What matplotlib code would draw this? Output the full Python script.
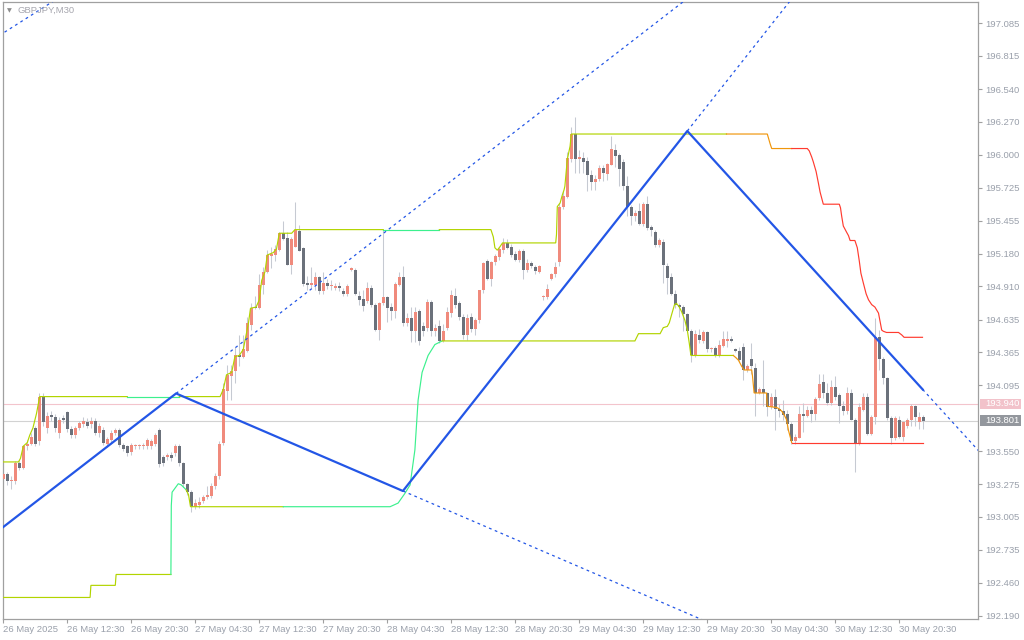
import matplotlib
matplotlib.use("Agg")
import matplotlib.pyplot as plt
from matplotlib.patches import Rectangle
import numpy as np

# ---------------- data ----------------
symbol_title = "GBPJPY,M30"
time_label_bars = [0, 16, 32, 48, 64, 80, 96, 112, 128, 144, 160, 176, 192, 208, 224]
time_labels = ["26 May 2025", "26 May 12:30", "26 May 20:30", "27 May 04:30", "27 May 12:30",
               "27 May 20:30", "28 May 04:30", "28 May 12:30", "28 May 20:30", "29 May 04:30",
               "29 May 12:30", "29 May 20:30", "30 May 04:30", "30 May 12:30", "30 May 20:30"]
price_ticks = [197.085, 196.815, 196.540, 196.270, 196.000, 195.725, 195.455, 195.180, 194.910,
               194.635, 194.365, 194.095, 193.550, 193.275, 193.005, 192.735, 192.460, 192.190]
ask_price = 193.940
bid_price = 193.801

opens = [
    193.32, 193.36, 193.30, 193.30, 193.45, 193.41, 193.59, 193.61, 193.74, 193.63,
    194.00, 193.74, 193.85, 193.83, 193.70, 193.82, 193.87, 193.73, 193.68, 193.74,
    193.77, 193.79, 193.77, 193.80, 193.70, 193.72, 193.61, 193.64, 193.70, 193.72,
    193.60, 193.59, 193.54, 193.59, 193.59, 193.59, 193.59, 193.59, 193.61, 193.72,
    193.50, 193.50, 193.52, 193.53, 193.59, 193.45, 193.28, 193.21, 193.09, 193.10,
    193.14, 193.17, 193.18, 193.26, 193.34, 193.62, 194.05, 194.17, 194.21, 194.34,
    194.33, 194.38, 194.59, 194.74, 194.73, 194.92, 195.03, 195.16, 195.17, 195.21,
    195.35, 195.31, 195.09, 195.24, 195.37, 195.23, 194.94, 194.92, 194.92, 194.99,
    194.87, 194.94, 194.91, 194.90, 194.91, 194.87, 194.85, 195.05, 195.05, 194.83,
    194.81, 194.79, 194.90, 194.76, 194.55, 194.77, 194.82, 194.74, 194.71, 194.92,
    194.99, 194.61, 194.65, 194.54, 194.71, 194.58, 194.57, 194.78, 194.54, 194.58,
    194.46, 194.57, 194.69, 194.83, 194.77, 194.66, 194.51, 194.66, 194.56, 194.63,
    194.88, 195.12, 194.97, 195.11, 195.15, 195.21, 195.27, 195.24, 195.18, 195.13,
    195.20, 195.05, 195.10, 195.07, 195.03, 194.82, 194.82, 194.97, 195.01, 195.11,
    195.57, 195.65, 195.96, 196.17, 195.96, 195.97, 195.95, 195.83, 195.77, 195.80,
    195.89, 195.84, 195.91, 196.04, 196.00, 195.94, 195.74, 195.57, 195.49, 195.53,
    195.43, 195.59, 195.40, 195.36, 195.25, 195.28, 195.08, 194.99, 194.85, 194.76,
    194.74, 194.68, 194.54, 194.34, 194.51, 194.46, 194.53, 194.39, 194.40, 194.34,
    194.42, 194.46, 194.48, 194.39, 194.38, 194.41, 194.22, 194.31, 194.24, 194.03,
    194.06, 194.03, 193.91, 194.00, 193.90, 193.88, 193.86, 193.77, 193.63, 193.66,
    193.86, 193.84, 193.89, 193.86, 193.99, 194.12, 194.03, 193.95, 194.08, 194.01,
    193.92, 193.88, 194.03, 193.81, 193.62, 193.89, 194.00, 193.69, 193.83, 194.49,
    194.31, 194.15, 193.82, 193.66, 193.81, 193.67, 193.76, 193.81, 193.92, 193.79,
    193.83]
highs = [
    193.40, 193.38, 193.34, 193.47, 193.47, 193.60, 193.64, 193.70, 193.76, 194.03,
    194.03, 193.87, 193.88, 193.86, 193.83, 193.85, 193.88, 193.76, 193.76, 193.80,
    193.83, 193.82, 193.83, 193.82, 193.78, 193.75, 193.67, 193.72, 193.74, 193.74,
    193.62, 193.60, 193.62, 193.61, 193.61, 193.62, 193.66, 193.65, 193.70, 193.74,
    193.52, 193.53, 193.54, 193.61, 193.61, 193.46, 193.29, 193.23, 193.15, 193.17,
    193.19, 193.26, 193.29, 193.37, 193.63, 194.11, 194.26, 194.26, 194.41, 194.51,
    194.51, 194.66, 194.77, 194.83, 195.01, 195.07, 195.21, 195.24, 195.25, 195.36,
    195.45, 195.36, 195.32, 195.61, 195.42, 195.24, 195.00, 195.07, 195.03, 195.00,
    195.03, 194.97, 194.96, 194.94, 194.95, 194.90, 194.93, 195.07, 195.06, 194.87,
    194.88, 194.95, 194.92, 194.77, 194.78, 195.38, 194.83, 194.77, 194.95, 195.03,
    195.08, 194.69, 194.74, 194.74, 194.72, 194.62, 194.81, 194.80, 194.60, 194.63,
    194.60, 194.74, 194.88, 194.90, 194.79, 194.68, 194.68, 194.69, 194.65, 194.88,
    195.11, 195.14, 195.12, 195.18, 195.24, 195.31, 195.30, 195.26, 195.20, 195.22,
    195.22, 195.14, 195.12, 195.09, 195.09, 194.84, 194.93, 195.02, 195.11, 195.60,
    195.70, 196.02, 196.23, 196.31, 196.04, 196.02, 195.98, 195.87, 195.83, 195.91,
    195.91, 195.93, 196.15, 196.09, 196.01, 195.96, 195.82, 195.58, 195.54, 195.60,
    195.61, 195.66, 195.42, 195.38, 195.31, 195.30, 195.10, 195.02, 194.88, 194.77,
    194.76, 194.69, 194.56, 194.55, 194.56, 194.55, 194.54, 194.41, 194.42, 194.47,
    194.54, 194.54, 194.50, 194.40, 194.41, 194.44, 194.27, 194.44, 194.28, 194.08,
    194.30, 194.04, 194.03, 194.06, 193.94, 193.97, 193.89, 193.79, 193.69, 193.92,
    193.95, 193.92, 193.92, 194.00, 194.19, 194.19, 194.11, 194.14, 194.17, 194.03,
    193.96, 194.08, 194.06, 193.82, 193.95, 194.03, 194.03, 193.85, 194.65, 194.55,
    194.33, 194.16, 193.84, 193.84, 193.84, 193.80, 193.82, 193.94, 193.93, 193.87,
    193.85]
lows = [
    193.28, 193.27, 193.24, 193.28, 193.39, 193.40, 193.56, 193.60, 193.59, 193.60,
    193.76, 193.70, 193.80, 193.71, 193.66, 193.78, 193.71, 193.66, 193.66, 193.72,
    193.75, 193.74, 193.74, 193.68, 193.67, 193.60, 193.58, 193.62, 193.68, 193.58,
    193.55, 193.51, 193.52, 193.57, 193.57, 193.57, 193.57, 193.57, 193.59, 193.42,
    193.43, 193.48, 193.47, 193.51, 193.43, 193.25, 193.19, 193.05, 193.07, 193.08,
    193.12, 193.15, 193.16, 193.24, 193.32, 193.60, 193.97, 193.97, 194.11, 194.25,
    194.32, 194.37, 194.55, 194.72, 194.72, 194.85, 195.02, 195.06, 195.12, 195.20,
    195.29, 195.09, 195.01, 195.24, 195.20, 194.91, 194.88, 194.90, 194.88, 194.85,
    194.85, 194.89, 194.88, 194.88, 194.87, 194.83, 194.83, 195.04, 194.84, 194.76,
    194.71, 194.77, 194.74, 194.54, 194.47, 194.76, 194.62, 194.63, 194.65, 194.91,
    194.58, 194.58, 194.45, 194.45, 194.43, 194.50, 194.54, 194.50, 194.50, 194.44,
    194.45, 194.55, 194.66, 194.73, 194.63, 194.48, 194.47, 194.53, 194.51, 194.61,
    194.86, 194.96, 194.91, 195.09, 195.13, 195.19, 195.22, 195.15, 195.12, 195.11,
    194.97, 195.03, 195.06, 195.01, 195.02, 194.80, 194.81, 194.96, 194.99, 195.08,
    195.55, 195.64, 195.94, 195.85, 195.85, 195.85, 195.70, 195.71, 195.71, 195.78,
    195.78, 195.79, 195.91, 195.90, 195.74, 195.71, 195.49, 195.42, 195.45, 195.42,
    195.41, 195.38, 195.33, 195.24, 195.24, 194.94, 194.85, 194.84, 194.73, 194.66,
    194.54, 194.54, 194.29, 194.33, 194.44, 194.44, 194.37, 194.37, 194.33, 194.33,
    194.41, 194.41, 194.45, 194.37, 194.29, 194.14, 194.20, 194.19, 193.84, 194.02,
    193.92, 193.84, 193.90, 193.72, 193.83, 193.81, 193.72, 193.61, 193.61, 193.66,
    193.71, 193.83, 193.79, 193.81, 193.97, 193.99, 193.93, 193.93, 193.97, 193.78,
    193.85, 193.86, 193.81, 193.38, 193.60, 193.88, 193.68, 193.68, 193.77, 194.22,
    194.10, 193.81, 193.61, 193.64, 193.66, 193.63, 193.74, 193.76, 193.76, 193.73,
    193.73]
closes = [
    193.36, 193.30, 193.31, 193.45, 193.41, 193.59, 193.61, 193.67, 193.61, 194.00,
    193.79, 193.84, 193.83, 193.74, 193.81, 193.81, 193.73, 193.68, 193.74, 193.78,
    193.80, 193.76, 193.80, 193.70, 193.76, 193.62, 193.65, 193.70, 193.72, 193.60,
    193.57, 193.53, 193.60, 193.59, 193.59, 193.60, 193.64, 193.63, 193.68, 193.44,
    193.45, 193.52, 193.49, 193.59, 193.45, 193.28, 193.21, 193.09, 193.12, 193.13,
    193.17, 193.19, 193.26, 193.34, 193.61, 194.06, 194.18, 194.21, 194.34, 194.33,
    194.39, 194.61, 194.73, 194.73, 194.92, 195.03, 195.17, 195.18, 195.22, 195.35,
    195.30, 195.09, 195.30, 195.38, 195.20, 194.93, 194.92, 194.94, 194.99, 194.87,
    194.94, 194.91, 194.91, 194.91, 194.90, 194.85, 194.91, 195.05, 194.85, 194.80,
    194.75, 194.90, 194.76, 194.55, 194.77, 194.82, 194.73, 194.71, 194.93, 194.99,
    194.61, 194.65, 194.54, 194.70, 194.46, 194.54, 194.78, 194.54, 194.57, 194.46,
    194.54, 194.70, 194.84, 194.76, 194.66, 194.51, 194.65, 194.56, 194.63, 194.88,
    195.10, 194.97, 195.11, 195.16, 195.22, 195.27, 195.23, 195.17, 195.13, 195.20,
    195.05, 195.10, 195.08, 195.04, 195.08, 194.83, 194.89, 195.01, 195.07, 195.57,
    195.66, 195.97, 196.17, 195.96, 195.98, 195.94, 195.83, 195.77, 195.80, 195.89,
    195.85, 195.92, 196.05, 195.99, 195.88, 195.74, 195.57, 195.49, 195.52, 195.43,
    195.59, 195.39, 195.38, 195.25, 195.29, 195.09, 194.98, 194.85, 194.76, 194.74,
    194.68, 194.54, 194.34, 194.52, 194.47, 194.53, 194.39, 194.39, 194.34, 194.43,
    194.48, 194.48, 194.46, 194.38, 194.30, 194.22, 194.25, 194.25, 194.03, 194.06,
    194.03, 193.91, 194.00, 193.90, 193.88, 193.85, 193.77, 193.63, 193.67, 193.86,
    193.84, 193.89, 193.86, 193.98, 194.10, 194.03, 193.95, 194.08, 194.00, 193.92,
    193.88, 194.03, 193.81, 193.62, 193.91, 194.00, 193.69, 193.83, 194.49, 194.31,
    194.15, 193.82, 193.66, 193.82, 193.67, 193.79, 193.81, 193.92, 193.83, 193.83,
    193.80]

# upper channel line (vertices: bar index, price) and its colour changes
upper_bars = [0, 3.8, 4.3, 5, 6, 6.6, 7.4, 8.3, 9.1, 31, 44, 54.2, 55.0, 55.8, 57.1, 57.9, 59.0,
              60.0, 61.3, 61.8, 63.2, 64.0, 64.6, 65.4, 66.0, 67.5, 68.3, 69.0, 72.1, 72.9, 95,
              109, 121.9, 122.5, 122.9, 123.5, 124.2, 124.8, 138.1, 138.3, 138.5, 139.2, 139.7,
              140.2, 140.4, 141.0, 141.7, 142.0, 180.8, 191.0, 191.7, 192.1, 197.1, 201.0, 201.5,
              202.1, 202.5, 203.2, 203.8, 204.2, 204.6, 205.0, 209.0, 209.3, 209.6, 210.0, 210.8,
              211.3, 211.7, 212.9, 213.5, 214.0, 214.4, 215.0, 215.7, 216.3, 217.1, 217.9, 218.8,
              219.2, 219.6, 220.0, 220.8, 223.8, 224.6, 225.2, 229.8]
upper_prices = [193.46, 193.46, 193.49, 193.59, 193.62, 193.68, 193.74, 193.86, 194.00, 194.00,
                194.00, 194.00, 194.06, 194.18, 194.20, 194.33, 194.34, 194.39, 194.61, 194.73,
                194.74, 194.80, 194.96, 195.03, 195.17, 195.19, 195.22, 195.35, 195.35, 195.38,
                195.38, 195.38, 195.38, 195.32, 195.23, 195.21, 195.24, 195.27, 195.27, 195.34,
                195.57, 195.60, 195.66, 195.71, 195.74, 195.96, 196.07, 196.17, 196.17, 196.17,
                196.09, 196.05, 196.05, 196.05, 196.03, 195.98, 195.94, 195.86, 195.76, 195.69,
                195.64, 195.59, 195.59, 195.56, 195.49, 195.41, 195.36, 195.33, 195.29, 195.29,
                195.23, 195.12, 195.02, 194.94, 194.85, 194.80, 194.76, 194.74, 194.69, 194.62,
                194.55, 194.54, 194.53, 194.53, 194.51, 194.49, 194.49]
upper_color_changes = [(0, "yg"), (31, "green"), (44, "yg"), (95, "green"), (109, "yg"),
                       (180.8, "orange"), (197.1, "red")]

# lower channel line
lower_bars = [0, 21.7, 21.9, 28.0, 28.2, 41.9, 42.0, 42.2, 43.75, 44.5, 45.7, 46.3, 46.8, 47.0, 70,
              96.7, 98.7, 100.4, 101.7, 102.9, 103.7, 104.7, 106.2, 107.9, 109.7, 157.9, 158.8,
              164.2, 165.0, 166.0, 166.5, 167.1, 167.8, 168.3, 169.0, 169.6, 170.4, 171.0, 171.5,
              171.9, 182.5, 183.2, 183.8, 184.6, 185.2, 187.1, 187.3, 187.7, 190.8, 191.0, 193.3,
              193.9, 194.6, 195.2, 195.8, 196.3, 196.7, 197.1, 229.8]
lower_prices = [192.34, 192.34, 192.44, 192.44, 192.53, 192.53, 193.10, 193.21, 193.28, 193.27,
                193.23, 193.19, 193.09, 193.09, 193.09, 193.09, 193.12, 193.20, 193.27, 193.56,
                193.97, 194.20, 194.34, 194.43, 194.46, 194.46, 194.52, 194.52, 194.57, 194.58,
                194.61, 194.68, 194.76, 194.77, 194.74, 194.70, 194.63, 194.55, 194.44, 194.34,
                194.34, 194.32, 194.30, 194.25, 194.22, 194.22, 194.17, 194.03, 194.03, 193.92,
                193.91, 193.90, 193.88, 193.85, 193.81, 193.72, 193.67, 193.62, 193.62]
lower_color_changes = [(0, "yg"), (41.9, "green"), (45.7, "yg"), (70, "green"), (109.7, "yg"),
                       (182.5, "orange"), (197.1, "red")]

# zigzag pivots (solid) and dashed extensions
zigzag_bars = [-1, 43.2, 99.9, 171.0, 229.85]
zigzag_prices = [192.897, 194.026, 193.220, 196.195, 194.059]
ext_bars = [[-1, 15], [43.2, 180], [99.9, 180], [171.0, 200], [229.85, 250]]
ext_prices = [[196.984, 197.32], [194.026, 197.519], [193.220, 192.081],
              [196.195, 197.408], [194.059, 193.328]]

# ---------------- style ----------------
COL = {"yg": "#b2d400", "green": "#3cf08e", "orange": "#f0960c", "red": "#ff3b2f"}
BULL = "#f08a7c"
BEAR = "#6b717b"
WICK = "#c6cad2"
BLUE = "#2356e6"
TXT = "#9aa0ab"
FRAME = "#a0a0a0"
FONT = "Liberation Sans"

W, H = 1024, 640
fig = plt.figure(figsize=(W / 100, H / 100), dpi=100)
fig.patch.set_facecolor("white")
ax = fig.add_axes([3 / W, 1 - 619 / H, 975 / W, 617 / H])
ax.set_facecolor("white")

ax.set_xlim(-0.075, 243.675)
ax.set_ylim(192.162, 197.261)

n = len(closes)
xs = np.arange(n)
o = np.array(opens); c = np.array(closes); hi = np.array(highs); lo = np.array(lows)

# bid / ask lines
ax.axhline(ask_price, color="#f3c4cc", lw=0.8, zorder=1)
ax.axhline(bid_price, color="#d2d2d2", lw=0.8, zorder=1)

# candles
ax.vlines(xs, lo, hi, color=WICK, lw=0.75, zorder=2)
bull = c >= o
body_h = np.maximum(np.abs(c - o), 0.009)
body_b = np.minimum(o, c)
ax.bar(xs[bull], body_h[bull], bottom=body_b[bull], width=0.75, color=BULL, lw=0, zorder=3)
ax.bar(xs[~bull], body_h[~bull], bottom=body_b[~bull], width=0.75, color=BEAR, lw=0, zorder=3)


def draw_colored(bars, prices, changes):
    def col_at(b):
        name = changes[0][1]
        for cb, nm in changes:
            if b >= cb - 1e-9:
                name = nm
        return name
    k = 0
    m = len(bars)
    while k < m - 1:
        name = col_at(bars[k])
        j = k
        while j < m - 1 and col_at(bars[j]) == name:
            j += 1
        ax.plot(bars[k:j + 1], prices[k:j + 1], color=COL[name], lw=0.85, zorder=4,
                solid_joinstyle="miter")
        k = j


draw_colored(upper_bars, upper_prices, upper_color_changes)
draw_colored(lower_bars, lower_prices, lower_color_changes)

# zigzag
ax.plot(zigzag_bars, zigzag_prices, color=BLUE, lw=1.6, zorder=5)
for eb, ep in zip(ext_bars, ext_prices):
    ax.plot(eb, ep, color=BLUE, lw=0.9, ls=(0, (2.2, 2.8)), zorder=5)

# frame
for s in ax.spines.values():
    s.set_color(FRAME)
    s.set_linewidth(0.9)

# x axis
ax.set_xticks(time_label_bars)
ax.set_xticklabels(time_labels)
ax.tick_params(axis="x", direction="out", length=3, width=0.8, color=FRAME, pad=1.5,
               labelsize=6.8, labelcolor=TXT)
for lbl in ax.get_xticklabels():
    lbl.set_horizontalalignment("left")
    lbl.set_fontfamily(FONT)

# y axis on right
ax.yaxis.tick_right()
ax.set_yticks(price_ticks)
ax.set_yticklabels([f"{p:.3f}" for p in price_ticks])
ax.tick_params(axis="y", direction="out", length=3, width=0.8, color=FRAME, pad=2.5,
               labelsize=6.8, labelcolor=TXT)
for lbl in ax.get_yticklabels():
    lbl.set_fontfamily(FONT)

# price boxes
ytr = ax.get_yaxis_transform()
box_h = 0.086
for price, fc in [(ask_price, "#f2c2ca"), (bid_price, "#93979d")]:
    ax.add_patch(Rectangle((1.002, price - box_h / 2), 0.0425, box_h, transform=ytr,
                           facecolor=fc, edgecolor="none", clip_on=False, zorder=6))
    ax.text(1.0072, price, f"{price:.3f}", transform=ytr, color="white", fontsize=6.8,
            family=FONT, va="center", ha="left", clip_on=False, zorder=7)

# title
fig.text(18 / W, 1 - 10.5 / H, symbol_title, color="#a6a6ae", fontsize=6.8, family=FONT,
         va="center", ha="left")
fig.text(9.7 / W, 1 - 10.5 / H, "\u25bc", color="#8c8c8c", fontsize=4.5, family="DejaVu Sans",
         va="center", ha="center")

fig.savefig("out.png", dpi=100, facecolor="white")
